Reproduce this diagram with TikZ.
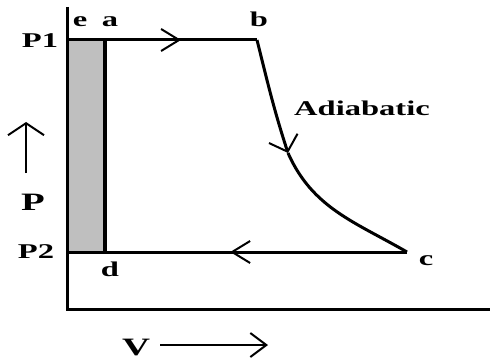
\documentclass[tikz,border=0pt]{standalone}
\usepackage{fontspec}
\setmainfont{Liberation Serif}
\usetikzlibrary{arrows.meta, decorations.markings}

\begin{document}
\begin{tikzpicture}[x=1pt, y=1pt,
    lbl/.style={font=\bfseries\fontsize{21}{21}\selectfont, xscale=1.55,
        transform shape, inner sep=0pt, anchor=base},
    biglbl/.style={lbl, font=\bfseries\fontsize{25}{25}\selectfont},
    midarrow/.style={postaction={decorate}, decoration={markings,
        mark=at position #1 with {\arrow{Straight Barb[length=18pt, width=22pt, line width=2pt]}}}}]
    \useasboundingbox (0,0) rectangle (492,362);

    % Corners of the cycle
    \coordinate (e) at (67,322);
    \coordinate (a) at (105,322);
    \coordinate (b) at (257,322);
    \coordinate (m) at (288,209);
    \coordinate (c) at (407,110);
    \coordinate (d) at (105,110);
    \coordinate (f) at (67,110);

    % Shaded part e-a-d
    \fill[gray!50] (f) rectangle (a);

    % Axes
    \coordinate (O) at (67,53);
    \coordinate (Ptop) at (67,355);
    \coordinate (Vend) at (490,53);
    \draw[line width=3pt] (Ptop) -- (O) -- (Vend);

    % Line a-d
    \draw[line width=4pt] (a) -- (d);

    % P1 line (e to b)
    \draw[line width=3pt, midarrow=0.6] (e) -- (b);

    % Adiabatic curve b to c
    \draw[line width=3pt, -{Straight Barb[length=14pt, width=30pt, line width=2pt]}] (b) to[out=-76, in=108] (m);
    \draw[line width=3pt] (m) to[out=-66, in=150] (c);

    % P2 line (c to f)
    \draw[line width=3pt, midarrow=0.52] (c) -- (f);

    % Labels
    \node[lbl] (le) at (80,335) {e};
    \node[lbl] (la) at (110,335) {a};
    \node[lbl] (lb) at (259,335) {b};
    \node[lbl] (lc) at (426,97) {c};
    \node[lbl] (ld) at (110,86) {d};
    \node[lbl] (lP1) at (40,314) {P1};
    \node[lbl] (lP2) at (36,104) {P2};
    \node[lbl] (ladia) at (362,246) {Adiabatic};

    % P axis name and its arrow
    \node[biglbl] (lP) at (33,152) {P};
    \coordinate (Pfoot) at (26,189);
    \coordinate (Phead) at (26,240);
    \draw[line width=2pt, -{Straight Barb[length=12pt, width=36pt, line width=2pt]}] (Pfoot) -- (Phead);

    % V axis name and its arrow
    \node[biglbl] (lV) at (136,7) {V};
    \coordinate (Vfoot) at (160,17);
    \coordinate (Vhead) at (268,17);
    \draw[line width=2pt, -{Straight Barb[length=16pt, width=24pt, line width=2pt]}] (Vfoot) -- (Vhead);
\end{tikzpicture}
\end{document}
